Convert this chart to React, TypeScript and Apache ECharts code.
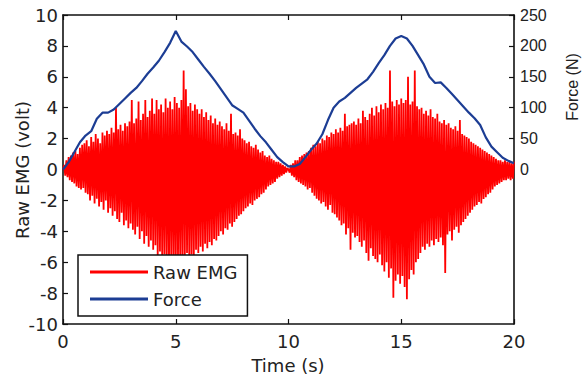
import React, { useEffect, useRef } from "react";
import * as echarts from "echarts";

// Time step of the EMG samples (s)
const emgStep = 0.05;

// Raw EMG (volt), first contraction 0 – 9.95 s
const emgCycle1 = [
  0, 0.3, -0.4, 0.6, -0.5, 0.8, -0.7, 0.9, -0.8, 1.1, -0.9, 1.2, -1.1, 1.0, -1.2, 1.4, -1.3, 1.6, -1.2, 1.7,
  -1.5, 1.9, -1.6, 1.5, -2.0, 2.1, -1.7, 1.8, -2.2, 2.3, -1.9, 2.0, -2.4, 1.7, -2.1, 2.4, -2.6, 2.2, -2.0, 2.5,
  -2.8, 2.3, -2.5, 2.7, -3.0, 2.4, -2.7, 4.0, -3.2, 2.6, -3.4, 2.9, -2.8, 2.5, -3.6, 3.0, -3.3, 2.8, -3.8, 3.1,
  -3.5, 4.5, -3.9, 3.0, -4.2, 3.3, -3.7, 4.4, -4.5, 3.2, -4.0, 3.6, -4.8, 4.5, -4.3, 3.4, -5.0, 3.8, -4.6, 4.6,
  -5.2, 3.6, -4.9, 4.5, -5.6, 3.9, -5.3, 4.2, -6.0, 3.7, -5.5, 4.6, -5.9, 4.0, -6.3, 4.4, -5.7, 3.9, -6.1, 4.7,
  -6.5, 4.3, -5.8, 4.0, -6.2, 4.5, -5.6, 6.4, -6.0, 5.2, -5.4, 4.1, -5.9, 4.3, -5.5, 3.8, -5.7, 4.2, -5.2, 3.9,
  -5.4, 3.6, -5.0, 3.9, -5.3, 3.4, -4.8, 3.7, -5.1, 3.2, -4.7, 3.5, -4.9, 3.0, -4.5, 3.3, -4.6, 2.9, -4.3, 3.1,
  -4.0, 2.8, -4.2, 2.6, -3.8, 3.0, -3.9, 2.5, -3.5, 3.6, -3.7, 2.3, -3.4, 2.4, -3.2, 2.2, -3.0, 2.6, -2.9, 2.0,
  -2.7, 1.9, -2.5, 1.7, -2.4, 1.8, -2.2, 1.5, -2.3, 1.4, -2.0, 1.6, -1.9, 1.3, -1.8, 1.1, -1.6, 1.2, -1.5, 0.9,
  -1.3, 0.8, -1.1, 0.9, -1.0, 0.7, -0.9, 0.6, -0.8, 0.5, -0.6, 0.5, -0.5, 0.4, -0.4, 0.3, -0.3, 0.2, -0.2, 0.1,
];

// Raw EMG (volt), second contraction 10 – 20 s
const emgCycle2 = [
  0, -0.2, 0.3, -0.4, 0.4, -0.5, 0.6, -0.7, 0.6, -0.8, 0.8, -0.9, 0.9, -1.0, 1.0, -1.1, 1.1, -1.3, 1.2, -1.2,
  1.4, -1.5, 1.6, -1.7, 1.5, -1.9, 1.8, -2.0, 1.7, -2.2, 2.0, -2.1, 1.9, -2.4, 2.2, -2.6, 2.1, -2.3, 2.4, -2.8,
  2.3, -2.9, 2.6, -3.1, 2.4, -3.3, 2.7, -3.6, 2.5, -3.5, 3.6, -4.2, 2.8, -3.8, 2.9, -5.2, 3.0, -4.1, 3.1, -4.4,
  2.9, -4.3, 3.3, -4.7, 3.0, -5.0, 3.8, -4.6, 3.4, -5.4, 3.2, -5.9, 3.6, -5.1, 4.0, -5.6, 3.5, -5.8, 4.1, -6.0,
  3.7, -5.5, 4.2, -6.2, 3.9, -6.6, 4.3, -6.0, 4.0, -7.0, 6.4, -6.4, 4.4, -8.3, 4.1, -7.2, 4.5, -6.8, 4.2, -7.4,
  4.6, -6.9, 4.3, -7.6, 4.5, -8.4, 6.0, -7.1, 4.2, -6.5, 4.4, -6.8, 6.4, -6.0, 4.1, -5.8, 3.9, -5.4, 4.0, -5.0,
  3.6, -5.2, 3.8, -4.8, 3.5, -5.0, 3.9, -4.6, 3.4, -4.9, 3.3, -4.5, 3.6, -4.7, 3.1, -4.4, 3.0, -4.9, 3.2, -6.7,
  2.9, -4.2, 3.0, -4.0, 2.7, -4.6, 2.6, -3.9, 2.8, -3.7, 2.5, -4.1, 3.2, -3.6, 2.3, -3.4, 2.2, -3.2, 2.1, -3.0,
  2.0, -2.8, 1.8, -2.6, 1.7, -2.4, 1.6, -2.3, 1.5, -2.1, 1.4, -2.2, 1.3, -1.9, 1.2, -1.8, 1.1, -1.6, 1.0, -1.5,
  0.9, -1.3, 0.8, -1.1, 0.7, -1.0, 0.6, -0.9, 0.6, -0.8, 0.5, -0.7, 0.6, -0.7, 0.5, -0.6, 0.5, -0.7, 0.4, -0.6, 0.5,
];

// Force (N), sampled every 0.25 s
const forceStep = 0.25;
const forceValues = [
  0, 12, 28, 44, 55, 62, 82, 92, 92, 97, 106, 115, 124, 132, 143, 155, 165, 176, 190, 205,
  224, 207, 199, 190, 178, 166, 155, 143, 130, 117, 104, 98, 92, 79, 66, 54, 44, 32, 20, 12,
  5, 5, 9, 20, 32, 42, 57, 80, 100, 110, 116, 124, 132, 139, 146, 158, 172, 185, 200, 212,
  216, 212, 200, 185, 170, 150, 140, 141, 132, 122, 112, 102, 92, 83, 72, 52, 37, 28, 19, 14, 10,
];

const forceTickLabels = [0, 50, 100, 150, 200, 250];
const seriesNames = ["Raw EMG", "Force"];

const FONT = "DejaVu Sans";
const TXT = "#222";

export default function App() {
  const ref = useRef<HTMLDivElement>(null);

  useEffect(() => {
    if (!ref.current) return;
    const chart = echarts.init(ref.current, null, { renderer: "svg" });
    const emg = emgCycle1.concat(emgCycle2).map((v, i) => [+(i * emgStep).toFixed(2), v]);
    const force = forceValues.map((v, i) => [i * forceStep, v]);

    const axisLine = { show: true, onZero: false, lineStyle: { color: "#111", width: 1.6 } };
    const tick = { show: true, inside: true, length: 5, lineStyle: { color: "#111", width: 1.2 } };

    chart.setOption({
      animation: false,
      backgroundColor: "#fff",
      grid: { left: 63, top: 15, right: 68, bottom: 57, containLabel: false },
      legend: {
        data: seriesNames,
        orient: "vertical",
        left: 78,
        top: 255,
        icon: "rect",
        itemWidth: 58,
        itemHeight: 3,
        itemGap: 9,
        backgroundColor: "#fff",
        borderColor: "#111",
        borderWidth: 1.5,
        borderRadius: 0,
        padding: [8, 10, 8, 12],
        textStyle: { fontFamily: FONT, fontSize: 18, color: TXT },
      },
      xAxis: [
        {
          type: "value",
          min: 0,
          max: 20,
          interval: 5,
          position: "bottom",
          axisLine,
          axisTick: tick,
          splitLine: { show: false },
          axisLabel: { fontFamily: FONT, fontSize: 18, color: TXT, margin: 8 },
        },
        {
          type: "value",
          min: 0,
          max: 20,
          interval: 5,
          position: "top",
          axisLine,
          axisTick: tick,
          splitLine: { show: false },
          axisLabel: { show: false },
        },
      ],
      yAxis: [
        {
          type: "value",
          min: -10,
          max: 10,
          interval: 2,
          position: "left",
          axisLine,
          axisTick: tick,
          splitLine: { show: false },
          axisLabel: { fontFamily: FONT, fontSize: 18, color: TXT, margin: 5 },
        },
        {
          type: "value",
          min: -250,
          max: 250,
          interval: 50,
          position: "right",
          axisLine,
          axisTick: { ...tick, customValues: forceTickLabels },
          splitLine: { show: false },
          axisLabel: {
            customValues: forceTickLabels,
            fontFamily: "Liberation Sans",
            fontSize: 16,
            color: TXT,
            margin: 6,
            formatter: (v: number) => (v < 0 ? "" : String(v)),
          },
        },
      ],
      graphic: [
        {
          type: "text",
          x: 22,
          y: 170,
          rotation: Math.PI / 2,
          style: { text: "Raw EMG (volt)", font: `18px '${FONT}'`, fill: TXT, align: "center", verticalAlign: "middle" },
        },
        {
          type: "text",
          x: 572,
          y: 87,
          rotation: Math.PI / 2,
          style: { text: "Force (N)", font: "16px 'Liberation Sans'", fill: TXT, align: "center", verticalAlign: "middle" },
        },
        {
          type: "text",
          x: 288,
          y: 365,
          style: { text: "Time (s)", font: `18px '${FONT}'`, fill: TXT, align: "center", verticalAlign: "middle" },
        },
      ],
      series: [
        {
          name: seriesNames[0],
          type: "line",
          xAxisIndex: 0,
          yAxisIndex: 0,
          data: emg,
          showSymbol: false,
          symbol: "none",
          itemStyle: { color: "#ff0000" },
          lineStyle: { color: "#ff0000", width: 1.8 },
          z: 2,
        },
        {
          name: seriesNames[1],
          type: "line",
          xAxisIndex: 0,
          yAxisIndex: 1,
          data: force,
          showSymbol: false,
          symbol: "none",
          itemStyle: { color: "#1c3d94" },
          lineStyle: { color: "#1c3d94", width: 2.2 },
          z: 3,
        },
      ],
    });
    return () => chart.dispose();
  }, []);

  return (
    <div
      ref={ref}
      style={{ position: "fixed", left: 0, top: 0, width: 582, height: 381, background: "#fff" }}
    />
  );
}
